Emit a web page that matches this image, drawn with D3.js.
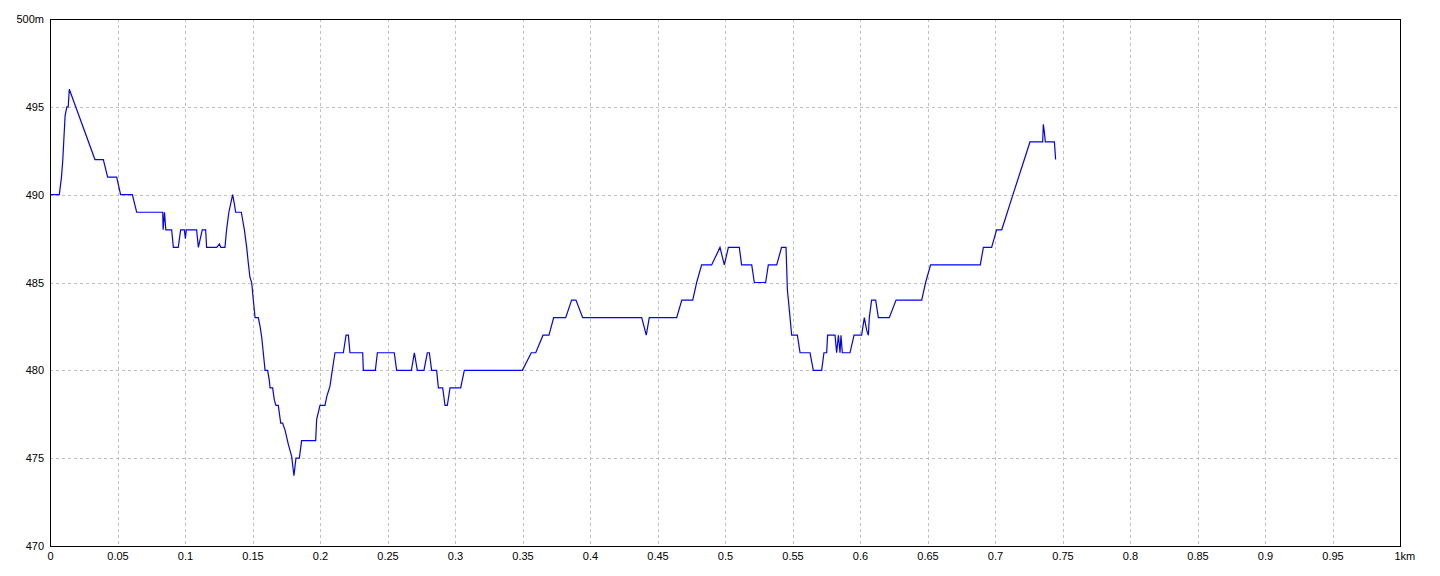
<!DOCTYPE html>
<html>
<head>
<meta charset="utf-8">
<script src="https://cdn.jsdelivr.net/npm/d3@7"></script>
<style>
  html, body { margin: 0; padding: 0; background: #fff; }
  svg { display: block; }
  text { font-family: "Liberation Sans", Arial, sans-serif; font-size: 11px; fill: #000; }
</style>
</head>
<body>
<svg id="chart" width="1440" height="576"></svg>
<script>
// distance along the route (km)
const distance = [
  0, 0.0069, 0.0085, 0.0095, 0.0105, 0.0112, 0.0125, 0.0135, 0.0143,
  0.0333, 0.0395, 0.0427, 0.0494, 0.0523, 0.061, 0.0642, 0.0835, 0.0838, 0.0848, 0.0858,
  0.0901, 0.0914, 0.095, 0.0968, 0.0995, 0.1003, 0.101, 0.1086, 0.1099, 0.1128, 0.1153,
  0.116, 0.1235, 0.1255, 0.1265, 0.1296, 0.1308, 0.1325, 0.1353, 0.1365, 0.1375, 0.1417, 0.144,
  0.1457, 0.1469, 0.1481, 0.1494, 0.1506, 0.1519, 0.1543, 0.1556, 0.1568, 0.158, 0.1593, 0.1612,
  0.1625, 0.163, 0.1649, 0.1662, 0.1674, 0.1691, 0.1709, 0.1723, 0.1741, 0.1765, 0.179, 0.1807,
  0.1822, 0.1847, 0.1864, 0.1968, 0.1975, 0.2, 0.2037, 0.205, 0.2074, 0.2091, 0.2111, 0.2173,
  0.2193, 0.221, 0.2222, 0.2316, 0.2321, 0.241, 0.2425, 0.255, 0.2568, 0.2677, 0.2699, 0.2721,
  0.277, 0.2795, 0.281, 0.2827, 0.2864, 0.2877, 0.2909, 0.2926, 0.2943, 0.2963, 0.3042, 0.3069,
  0.3499, 0.3565, 0.3598, 0.3652, 0.3696, 0.3731, 0.382, 0.3864, 0.3896, 0.3946, 0.4383, 0.4417,
  0.4439, 0.4642, 0.468, 0.4761, 0.479, 0.4827, 0.4901, 0.4963, 0.4995, 0.5025, 0.5106, 0.5123,
  0.5198, 0.5217, 0.5301, 0.5321, 0.5383, 0.5419, 0.5452, 0.5462, 0.5477, 0.5494, 0.5536, 0.5556,
  0.563, 0.5654, 0.5716, 0.5733, 0.5753, 0.576, 0.5815, 0.5827, 0.584, 0.5852, 0.5859, 0.5869,
  0.5926, 0.5956, 0.6012, 0.6032, 0.6049, 0.6062, 0.6069, 0.6086, 0.6116, 0.6136, 0.6217, 0.6267,
  0.6457, 0.6486, 0.6523, 0.6891, 0.6914, 0.6975, 0.7012, 0.705, 0.7133, 0.7259, 0.7353, 0.7358,
  0.7365, 0.7373, 0.744, 0.7449
];
// elevation (m)
const elevation = [
  490, 490, 491, 492, 493.5, 494.5, 495, 495, 496,
  492, 492, 491, 491, 490, 490, 489, 489, 488, 489, 488,
  488, 487, 487, 488, 488, 487.5, 488, 488, 487, 488, 488,
  487, 487, 487.2, 487, 487, 488, 489, 490, 489.5, 489, 489, 488,
  487, 486.1, 485.3, 485, 484, 483, 483, 482.5, 481.9, 481, 480, 480,
  479.4, 479, 479, 478.3, 478, 478, 477, 477, 476.6, 475.8, 475.1, 474,
  475, 475, 476, 476, 477.2, 478, 478, 478.5, 479.1, 480, 481, 481,
  482, 482, 481, 481, 480, 480, 481, 481, 480, 480, 481, 480,
  480, 481, 481, 480, 480, 479, 479, 478, 478, 479, 479, 480,
  480, 481, 481, 482, 482, 483, 483, 484, 484, 483, 483, 482,
  483, 483, 484, 484, 485, 486, 486, 487, 486, 487, 487, 486,
  486, 485, 485, 486, 486, 487, 487, 484.6, 483.4, 482, 482, 481,
  481, 480, 480, 481, 481, 482, 482, 481, 482, 481, 482, 481,
  481, 482, 482, 483, 482.3, 482, 483, 484, 484, 483, 483, 484,
  484, 485, 486, 486, 487, 487, 488, 488, 490, 493, 493, 494,
  493.6, 493, 493, 492
];
const xTicks = [0, 0.05, 0.1, 0.15, 0.2, 0.25, 0.3, 0.35, 0.4, 0.45, 0.5, 0.55, 0.6, 0.65, 0.7, 0.75, 0.8, 0.85, 0.9, 0.95, 1];
const xTickLabels = ["0", "0.05", "0.1", "0.15", "0.2", "0.25", "0.3", "0.35", "0.4", "0.45", "0.5", "0.55", "0.6", "0.65", "0.7", "0.75", "0.8", "0.85", "0.9", "0.95", "1km"];
const yTicks = [470, 475, 480, 485, 490, 495, 500];
const yTickLabels = ["470", "475", "480", "485", "490", "495", "500m"];

const plotLeft = 50, plotTop = 19, plotRight = 1400, plotBottom = 546;
const svg = d3.select("#chart");
const x = d3.scaleLinear().domain([0, 1]).range([plotLeft, plotRight]);
const y = d3.scaleLinear().domain([470, 500]).range([plotBottom, plotTop]);

// grid
const grid = svg.append("g").attr("shape-rendering", "crispEdges");
grid.selectAll("line.v").data(xTicks.slice(1, -1)).join("line")
  .attr("x1", d => Math.round(x(d)) + 0.5).attr("x2", d => Math.round(x(d)) + 0.5)
  .attr("y1", plotTop).attr("y2", plotBottom)
  .attr("stroke", "#c0c0c0").attr("stroke-dasharray", "3,3");
grid.selectAll("line.h").data(yTicks.slice(1, -1)).join("line")
  .attr("y1", d => Math.round(y(d)) + 0.5).attr("y2", d => Math.round(y(d)) + 0.5)
  .attr("x1", plotLeft).attr("x2", plotRight)
  .attr("stroke", "#c0c0c0").attr("stroke-dasharray", "3,3");

// data line
const pts = distance.map((d, i) => [d, elevation[i]]);
svg.append("path").datum(pts)
  .attr("fill", "none").attr("stroke", "#0000ff").attr("stroke-width", 1.2)
  .attr("d", d3.line().x(d => x(d[0])).y(d => y(d[1])));

// frame
svg.append("rect").attr("x", plotLeft + 0.5).attr("y", plotTop + 0.5)
  .attr("width", plotRight - plotLeft).attr("height", plotBottom - plotTop)
  .attr("fill", "none").attr("stroke", "#000").attr("shape-rendering", "crispEdges");

// axes labels
const xAxis = d3.axisBottom(x).tickValues(xTicks).tickSize(0).tickPadding(6)
  .tickFormat((d, i) => xTickLabels[i]);
const gx = svg.append("g").attr("transform", `translate(0,${plotBottom})`).call(xAxis);
gx.select(".domain").remove();
gx.selectAll("text").style("font-family", "'Liberation Sans', Arial, sans-serif").style("font-size", "11px")
  .attr("fill", "#000");
gx.selectAll(".tick").filter((d, i) => i === xTicks.length - 1).select("text")
  .attr("text-anchor", "start").attr("x", -6);

const yAxis = d3.axisLeft(y).tickValues(yTicks).tickSize(0).tickPadding(6)
  .tickFormat((d, i) => yTickLabels[i]);
const gy = svg.append("g").attr("transform", `translate(${plotLeft},0)`).call(yAxis);
gy.select(".domain").remove();
gy.selectAll("text").style("font-family", "'Liberation Sans', Arial, sans-serif").style("font-size", "11px")
  .attr("fill", "#000");
</script>
</body>
</html>
